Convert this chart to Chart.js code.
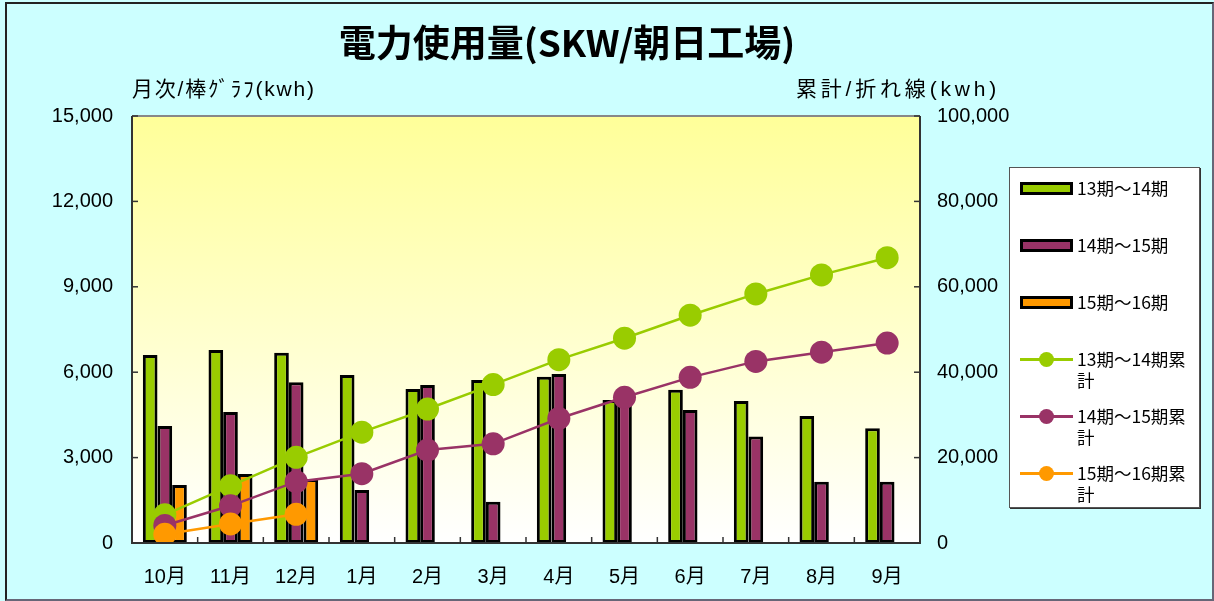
<!DOCTYPE html>
<html>
<head>
<meta charset="utf-8">
<script src="https://cdn.jsdelivr.net/npm/chart.js@4"></script>
<style>
    html, body { margin: 0; padding: 0; background: #ccffff; }
    body { width: 1214px; height: 601px; position: relative; overflow: hidden;
        font-family: "Liberation Sans", "Noto Sans CJK JP", sans-serif; }
    #frame { position: absolute; left: 5px; top: 2px; width: 1205px; height: 595px;
        border-left: 2px solid #222; border-top: 2px solid #222;
        border-right: 2px solid #667; border-bottom: 2px solid #667; }
    #chartWrap { position: absolute; left: 0; top: 0; width: 1214px; height: 601px; }
    .caption { position: absolute; font-size: 21px; color: #000; white-space: nowrap; }
    #title { position: absolute; left: 0; width: 1134px; top: 14px; text-align: center;
        font-size: 37px; font-weight: bold; font-family: "Noto Sans CJK JP", sans-serif; }
    #legend { position: absolute; left: 1009px; top: 167px; width: 189px; height: 339px;
        background: #fff; border: 1px solid #555; box-shadow: 1px 1px 0 #333; }
    .item { position: absolute; left: 10px; font-size: 17.5px; line-height: 21px;
        font-family: "Noto Sans CJK JP", sans-serif; }
    .item .sw { position: absolute; left: 0; top: 4px; width: 53px; height: 13px; }
    .item .txt { position: absolute; left: 57px; top: -1px; width: 118px; }
</style>
</head>
<body>
<div id="frame"></div>
<div id="chartWrap"><canvas id="chart" width="1214" height="601"></canvas></div>
<div id="title">電力使用量(SKW/朝日工場)</div>
<div class="caption" style="left:132px; top:72px; letter-spacing:1.8px;">月次/棒ｸﾞﾗﾌ(kwh)</div>
<div class="caption" style="left:796px; top:72px; letter-spacing:3.8px;">累計/折れ線(kwh)</div>
<div id="legend"></div>
<script>
const months = ["10月", "11月", "12月", "1月", "2月", "3月", "4月", "5月", "6月", "7月", "8月", "9月"]

// 月次 (kwh)
const usage13_14 = [6600, 6780, 6680, 5900, 5410, 5730, 5840, 5020, 5380, 4990, 4460, 4030]
const usage14_15 = [4110, 4600, 5650, 1860, 5550, 1450, 5940, 4960, 4670, 3740, 2150, 2150]
const usage15_16 = [2040, 2420, 2250, null, null, null, null, null, null, null, null, null]

// 累計 (kwh)
const cum13_14 = [6600, 13380, 20060, 25960, 31370, 37100, 42940, 47960, 53340, 58330, 62790, 66820]
const cum14_15 = [4110, 8710, 14360, 16220, 21770, 23220, 29160, 34120, 38790, 42530, 44680, 46830]
const cum15_16 = [2040, 4460, 6710, null, null, null, null, null, null, null, null, null]

const leftTicks = [0, 3000, 6000, 9000, 12000, 15000]
const rightTicks = [0, 20000, 40000, 60000, 80000, 100000]

const GREEN = "#99cc00"
const PURPLE = "#993366"
const ORANGE = "#ff9900"

const fmt = (v) => v.toLocaleString("en-US")

const plotBackground = {
    id: "plotBackground",
    beforeDraw(chart) {
        const { ctx, chartArea: a } = chart
        const g = ctx.createLinearGradient(0, a.top, 0, a.bottom)
        g.addColorStop(0, "#ffff99")
        g.addColorStop(1, "#ffffff")
        ctx.save()
        ctx.fillStyle = g
        ctx.fillRect(a.left, a.top, a.right - a.left, a.bottom - a.top)
        ctx.restore()
    },
    afterDatasetsDraw(chart) {
        // frame + inward tick marks
        const { ctx, chartArea: a, scales } = chart
        ctx.save()
        ctx.lineWidth = 2
        ctx.strokeStyle = "#888"
        ctx.beginPath()
        ctx.moveTo(a.left, a.top)
        ctx.lineTo(a.right, a.top)
        ctx.stroke()
        ctx.strokeStyle = "#333"
        ctx.beginPath()
        ctx.moveTo(a.left, a.top)
        ctx.lineTo(a.left, a.bottom)
        ctx.lineTo(a.right, a.bottom)
        ctx.lineTo(a.right, a.top)
        ctx.stroke()
        ctx.lineWidth = 1.5
        leftTicks.forEach((v) => {
            const y = scales.y.getPixelForValue(v)
            ctx.beginPath()
            ctx.moveTo(a.left, y)
            ctx.lineTo(a.left + 6, y)
            ctx.stroke()
        })
        rightTicks.forEach((v) => {
            const y = scales.y2.getPixelForValue(v)
            ctx.beginPath()
            ctx.moveTo(a.right, y)
            ctx.lineTo(a.right - 6, y)
            ctx.stroke()
        })
        const step = (a.right - a.left) / months.length
        for (let i = 1; i < months.length; i++) {
            const x = a.left + step * i
            ctx.beginPath()
            ctx.moveTo(x, a.bottom)
            ctx.lineTo(x, a.bottom - 6)
            ctx.stroke()
        }
        ctx.restore()
    },
}

const barSet = (label, data, color) => ({
    type: "bar",
    label: label,
    data: data,
    backgroundColor: color,
    borderColor: "#000",
    borderWidth: 3,
    borderSkipped: false,
    yAxisID: "y",
    order: 10,
    categoryPercentage: 0.67,
    barPercentage: 1,
})

const lineSet = (label, data, color, order) => ({
    type: "line",
    label: label,
    data: data,
    borderColor: color,
    backgroundColor: color,
    borderWidth: 2.5,
    pointRadius: 11.5,
    pointBorderWidth: 0,
    pointBackgroundColor: color,
    spanGaps: false,
    tension: 0,
    yAxisID: "y2",
    order: order,
})

const chart = new Chart(document.getElementById("chart"), {
    data: {
        labels: months,
        datasets: [
            barSet("13期～14期", usage13_14, GREEN),
            barSet("14期～15期", usage14_15, PURPLE),
            barSet("15期～16期", usage15_16, ORANGE),
            lineSet("13期～14期累計", cum13_14, GREEN, 3),
            lineSet("14期～15期累計", cum14_15, PURPLE, 2),
            lineSet("15期～16期累計", cum15_16, ORANGE, 1),
        ],
    },
    options: {
        responsive: false,
        animation: false,
        layout: { padding: { top: 116, left: 0, right: 0, bottom: 0 } },
        plugins: {
            legend: { display: false },
            title: { display: false },
            tooltip: { enabled: false },
        },
        scales: {
            x: {
                grid: { display: false, drawTicks: false },
                border: { display: false },
                ticks: {
                    padding: 22,
                    color: "#000",
                    font: { size: 20, family: "'Liberation Sans', 'Noto Sans CJK JP'" },
                },
                afterFit: (scale) => { scale.height = 58 },
            },
            y: {
                position: "left",
                min: 0,
                max: 15000,
                afterBuildTicks: (scale) => { scale.ticks = leftTicks.map((v) => ({ value: v })) },
                grid: { display: false, drawTicks: false },
                border: { display: false },
                ticks: {
                    padding: 19,
                    color: "#000",
                    font: { size: 20, family: "'Liberation Sans'" },
                    callback: (v) => fmt(v),
                },
                afterFit: (scale) => { scale.width = 132 },
            },
            y2: {
                position: "right",
                min: 0,
                max: 100000,
                afterBuildTicks: (scale) => { scale.ticks = rightTicks.map((v) => ({ value: v })) },
                grid: { display: false, drawTicks: false },
                border: { display: false },
                ticks: {
                    padding: 17,
                    color: "#000",
                    font: { size: 20, family: "'Liberation Sans'" },
                    callback: (v) => fmt(v),
                },
                afterFit: (scale) => { scale.width = 294 },
            },
        },
    },
    plugins: [plotBackground],
})

// legend from the chart datasets
const legendEl = document.getElementById("legend")
const legendTops = [10, 67, 124, 181, 238, 295]
chart.data.datasets.forEach((ds, i) => {
    const item = document.createElement("div")
    item.className = "item"
    item.style.top = legendTops[i] + "px"
    let sw
    if (ds.type === "bar") {
        sw = `<div class="sw" style="background:${ds.backgroundColor};border:3px solid #000;box-sizing:border-box;"></div>`
    } else {
        sw = `<div class="sw" style="height:21px;top:0;">
            <div style="position:absolute;left:0;top:9px;width:53px;height:3px;background:${ds.borderColor}"></div>
            <div style="position:absolute;left:19px;top:3px;width:15px;height:15px;border-radius:50%;background:${ds.borderColor}"></div>
        </div>`
    }
    item.innerHTML = sw + `<div class="txt">${ds.label}</div>`
    legendEl.appendChild(item)
})
</script>
</body>
</html>
